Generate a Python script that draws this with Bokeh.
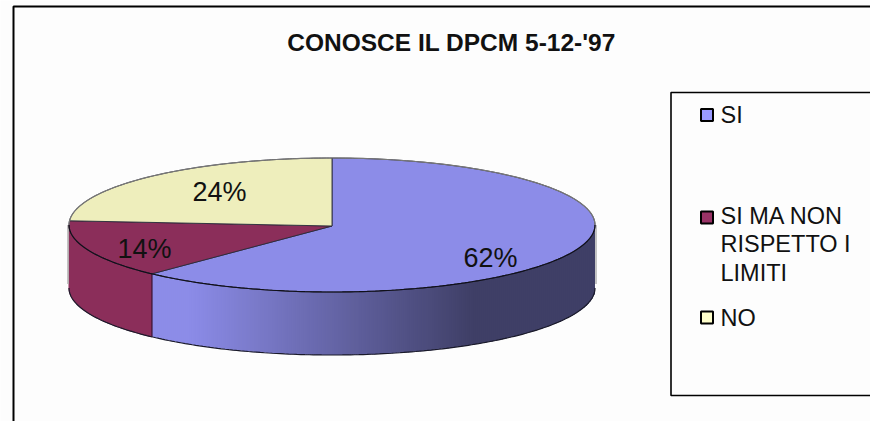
import numpy as np
from bokeh.plotting import figure
from bokeh.models import Range1d
from bokeh.core.properties import value
from bokeh.embed import file_html
from bokeh.resources import INLINE

# data
categories = ["SI", "SI MA NON RISPETTO I LIMITI", "NO"]
shares = [62, 14, 24]
share_labels = ["62%", "14%", "24%"]
top_colors = ["#8C8CE8", "#8B2E5A", "#EEEEBC"]
swatch_colors = ["#9999FF", "#993366", "#FFFFCC"]
legend_lines = ["SI", "SI MA NON", "RISPETTO I", "LIMITI", "NO"]
title = "CONOSCE IL DPCM 5-12-'97"

# layout (picture pixels)
W, H = 870, 421
CX, CY, RX, RY, DEPTH = 331.5, 224.5, 263, 67, 63
FONT = value("Liberation Sans")

p = figure(width=W, height=H, x_range=Range1d(0, W), y_range=Range1d(H, 0),
           output_backend="svg", toolbar_location=None, min_border=0,
           x_axis_type=None, y_axis_type=None, outline_line_color=None,
           background_fill_color="#FDFDFD", border_fill_color="#FDFDFD")
p.grid.visible = False


def ell(t, dy=0.0):
    """t: clockwise angle from the top, radians."""
    return CX + RX * np.sin(t), CY - RY * np.cos(t) + dy


edges = np.radians(np.cumsum([0] + shares) * 3.6)
RIGHT, LEFT = np.pi / 2, 3 * np.pi / 2

# maroon side wall
t = np.linspace(edges[1], LEFT, 60)
x0, y0 = ell(t)
x1, y1 = ell(t[::-1], DEPTH)
p.patch(np.r_[x0, x1], np.r_[y0, y1], fill_color="#8B2E5A", line_color="#8B2E5A")

# blue side wall: horizontal shading in overlapping columns
split_x = ell(edges[1])[0]
col_x = np.arange(split_x, CX + RX, 2.0)
col_x = np.r_[col_x, CX + RX]
light, dark = np.array([0x8C, 0x8C, 0xE8]), np.array([0x3F, 0x3F, 0x66])
xs, ys, cs = [], [], []
for xa, xb in zip(col_x[:-1], col_x[1:]):
    ta = np.pi - np.arcsin((xa - CX) / RX)
    tb = np.pi - np.arcsin((xb - CX) / RX)
    _, ya = ell(ta)
    _, yb = ell(tb)
    f = np.clip(((xa + xb) / 2 - 190) / (475 - 190), 0, 1)
    c = light + (dark - light) * f
    cs.append("#%02x%02x%02x" % tuple(int(v) for v in c))
    xe = min(xb + 1.0, CX + RX)
    xs.append([xa, xe, xe, xa])
    ys.append([ya - 1, yb - 1, yb + DEPTH, ya + DEPTH])
p.patches(xs, ys, fill_color=cs, line_color=None)

# outer faint shade and bottom rim
for sx in (RX + 1, -RX - 1):
    p.line([CX + sx] * 2, [CY, CY + DEPTH - 4], line_color="#B0B0B0", line_width=1.5)
t = np.linspace(RIGHT, LEFT, 200)
bx, by = ell(t, DEPTH)
p.line(bx, by, line_color="#1A1A2A", line_width=1.2)

# divider on the wall
dx, dy = ell(edges[1])
p.line([dx, dx], [dy, dy + DEPTH], line_color="#3A1030", line_width=1.2)

# top faces
for i in range(3):
    t = np.linspace(edges[i], edges[i + 1], 150)
    x, y = ell(t)
    p.patch(np.r_[CX, x], np.r_[CY + 1, y], fill_color=top_colors[i],
            line_color="#2A2A3A", line_width=0.9)

# back rim softer
t = np.linspace(-np.pi / 2, np.pi / 2, 200)
rx, ry = ell(t)
p.line(rx, ry, line_color="#777777", line_width=1.2)
t = np.linspace(RIGHT, LEFT, 200)
rx, ry = ell(t)
p.line(rx, ry, line_color="#10101A", line_width=1.2)

# share labels
lx = [490, 144, 219]
ly = [257, 248, 191]
p.text(lx, ly, text=share_labels, text_font=FONT, text_font_size="27px",
       text_color="#111111", text_align="center", text_baseline="middle")

# title
p.text([451], [42], text=[title], text_font=FONT, text_font_style="bold",
       text_font_size="24.5px", text_color="#111111", text_align="center",
       text_baseline="middle")

# frames
p.line([13, 13, W], [H, 6, 6], line_color="#000000", line_width=2)
p.line([W, 670.5, 670.5, W], [92, 92, 395, 395], line_color="#000000", line_width=1.6)

# legend
p.rect([706.5] * 3, [114.5, 217, 317], width=12, height=12, fill_color=swatch_colors,
       line_color="#000000", line_width=2)
p.text([720] * 5, [114, 215, 243, 272, 317], text=legend_lines, text_font=FONT,
       text_font_size="23.5px", text_color="#111111", text_align="left",
       text_baseline="middle")

open("out.html", "w").write(file_html(p, INLINE))
